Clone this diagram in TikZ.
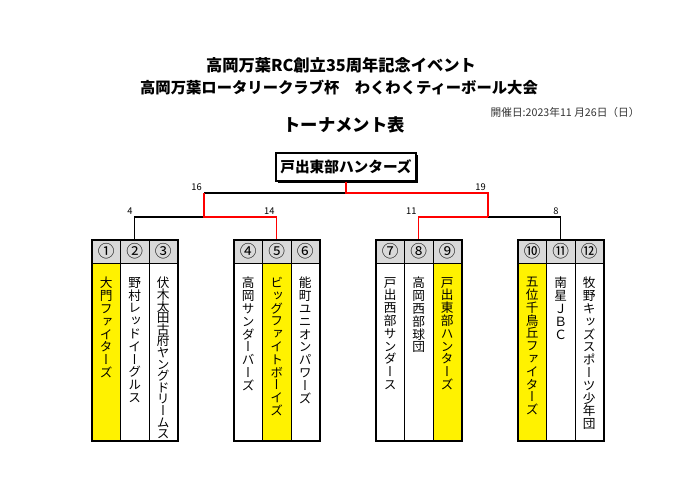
\documentclass[tikz,border=0pt]{standalone}
\usepackage{fontspec}
\setmainfont{Noto Sans CJK JP}
\newfontfamily\tatefont[RawFeature=+vert]{Noto Sans CJK JP}
\usetikzlibrary{fit,shadows}

\definecolor{hdrgray}{HTML}{D9D9D9}
\definecolor{winred}{HTML}{FF0000}

% vertical team names, one character per line
\def\tateend{}
\def\tatestep#1{\ifx#1\tateend\else\hbox to 9.5pt{\hss#1\hss}\expandafter\tatestep\fi}
\newcommand\tate[2]{\vbox{\baselineskip=#1\relax\lineskiplimit=-10pt\relax\tatestep#2\tateend}}

\tikzset{
  col/.style={draw, line width=.6pt, minimum width=21.4pt, minimum height=133.5pt, inner sep=0},
  hdr/.style={draw, line width=.6pt, fill=hdrgray, minimum width=21.4pt, minimum height=17.25pt, inner sep=0, font=\fontsize{12.5}{13}\selectfont},
  tate/.style={anchor=north, inner sep=0, font=\tatefont\fontsize{9.5}{10}\selectfont},
  grp/.style={draw, line width=1.5pt, inner sep=0},
  win/.style={draw=winred, line width=1.1pt},
  lose/.style={draw=black, line width=1.1pt},
  score/.style={anchor=south east, inner sep=1.5pt, font=\fontsize{7}{8}\selectfont},
  title/.style={font=\bfseries\fontsize{11.5}{14}\selectfont},
  champ/.style={draw, line width=.9pt, fill=white, minimum width=105pt, minimum height=21pt,
    font=\bfseries\fontsize{11}{13}\selectfont,
    drop shadow={shadow xshift=1.5pt, shadow yshift=-1.5pt, fill=black, opacity=1}}
}

\begin{document}
\begin{tikzpicture}[x=.75pt, y=-.75pt]
  \fill[white] (0,0) rectangle (700,486);
  \useasboundingbox (0,0) rectangle (700,486);

  % titles
  \node[title, font=\bfseries\fontsize{12.2}{14}\selectfont] (t1) at (341,65) {高岡万葉RC創立35周年記念イベント};
  \node[title] (t2) at (339,88) {高岡万葉ロータリークラブ杯　わくわくティーボール大会};
  \node[font=\bfseries\fontsize{13}{15}\selectfont] (t3) at (344,125) {トーナメント表};
  \node[anchor=west, text=black!80, font=\fontsize{8}{10}\selectfont] (date) at (486,112) {開催日:2023年11 月26日（日）};

  % teams
  \foreach \i/\num/\tname/\fc/\sk in {
    1/①/大門ファイターズ/yellow/9.6pt,
    2/②/野村レッドイーグルス/white/9.6pt,
    3/③/伏木太田古府ヤングドリームス/white/8.7pt,
    4/④/高岡サンダーバーズ/white/9.6pt,
    5/⑤/ビッグファイトボーイズ/yellow/9.6pt,
    6/⑥/能町ユニオンパワーズ/white/9.6pt,
    7/⑦/戸出西部サンダース/white/9.6pt,
    8/⑧/高岡西部球団/white/9.6pt,
    9/⑨/戸出東部ハンターズ/yellow/9.6pt,
    10/⑩/五位千鳥丘ファイターズ/yellow/9.6pt,
    11/⑪/南星ＪＢＣ/white/9.6pt,
    12/⑫/牧野キッズスポーツ少年団/white/9.6pt}{
    \pgfmathsetmacro\cx{92+142*int((\i-1)/3)+28.5*mod(\i-1,3)+14.25}
    \node[col, fill=\fc] (c\i) at (\cx,352) {};
    \node[hdr] (h\i) at (\cx,251.5) {\num};
    \edef\tatetext{\noexpand\tate{\sk}{\tname}}
    \node[tate] (n\i) at (\cx,277) {\tatetext};
  }
  \foreach \g in {1,...,4}{
    \pgfmathtruncatemacro\ga{3*\g-2}
    \pgfmathtruncatemacro\gb{3*\g}
    \node[grp, fit=(h\ga)(c\gb)] (g\g) {};
  }

  % winner
  \node[champ] (champ) at (346,167) {戸出東部ハンターズ};

  % bracket
  \coordinate (sfL) at (204,193);
  \coordinate (sfR) at (488,193);
  \coordinate (jL) at (204,217);
  \coordinate (jR) at (488,217);
  \draw[lose] (sfL) -- (champ.south |- sfL);
  \draw[lose] (jL) -| (g1.north);
  \draw[lose] (jR) -| (g4.north);
  \draw[win] (champ.south) -- (champ.south |- sfR) -- (sfR) -- (jR);
  \draw[win] (sfL) -- (jL) -| (g2.north);
  \draw[win] (jR) -| (g3.north);

  \node[score] (s16) at (sfL) {16};
  \node[score] (s19) at (sfR) {19};
  \node[score] (s4) at (g1.north |- jL) {4};
  \node[score] (s14) at (g2.north |- jL) {14};
  \node[score] (s11) at (g3.north |- jR) {11};
  \node[score] (s8) at (g4.north |- jR) {8};
\end{tikzpicture}
\end{document}
